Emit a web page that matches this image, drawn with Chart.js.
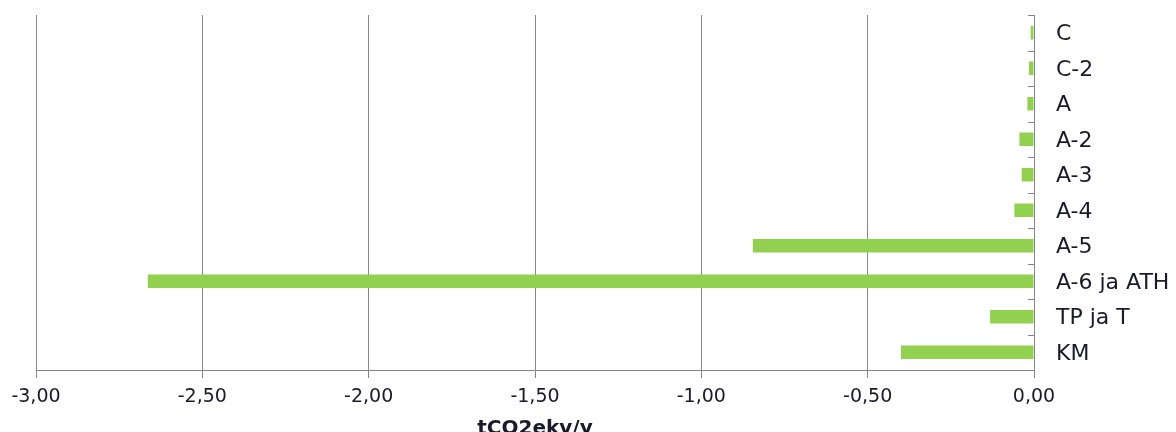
<!DOCTYPE html>
<html>
<head>
<meta charset="utf-8">
<script src="https://cdn.jsdelivr.net/npm/chart.js@4/dist/chart.umd.min.js"></script>
<style>
  html, body { margin: 0; padding: 0; background: #fff; }
  #wrap { width: 1176px; height: 432px; }
</style>
</head>
<body>
<div id="wrap"><canvas id="chart" width="1176" height="432"></canvas></div>
<script>
// categories, top to bottom
const categories = ['C', 'C-2', 'A', 'A-2', 'A-3', 'A-4', 'A-5', 'A-6 ja ATH', 'TP ja T', 'KM'];
// tCO2ekv/y
const values = [-0.01, -0.015, -0.02, -0.044, -0.037, -0.059, -0.845, -2.664, -0.132, -0.40];
const xMin = -3.0;
const xMax = 0.0;
const xStep = 0.5;
const axisTitle = 'tCO2ekv/y';

const gridGray = '#868686';
const barGreen = '#92D050';

// small inward tick marks on the category axis, at the category borders
const yTickMarks = {
    id: 'yTickMarks',
    afterDraw(chart) {
        const y = chart.scales.y;
        const ctx = chart.ctx;
        const x = y.left;
        ctx.save();
        ctx.strokeStyle = gridGray;
        ctx.lineWidth = 1;
        ctx.beginPath();
        for (let i = 0; i <= categories.length; i++) {
            const py = Math.round(y.getPixelForValue(i - 0.5)) + 0.5;
            ctx.moveTo(x - 6, py);
            ctx.lineTo(x, py);
        }
        ctx.stroke();
        ctx.restore();
    }
};

new Chart(document.getElementById('chart'), {
    type: 'bar',
    data: {
        labels: categories,
        datasets: [{
            data: values,
            backgroundColor: barGreen,
            borderWidth: 0,
            barPercentage: 0.38,
            categoryPercentage: 1.0
        }]
    },
    options: {
        indexAxis: 'y',
        responsive: false,
        animation: false,
        layout: { padding: { top: 15, left: 36, right: 0, bottom: 0 } },
        plugins: { legend: { display: false }, tooltip: { enabled: false } },
        scales: {
            x: {
                min: xMin,
                max: xMax,
                afterFit(scale) { scale.height = 62; },
                ticks: {
                    stepSize: xStep,
                    color: '#1a1a2a',
                    padding: 8,
                    maxRotation: 0,
                    font: { family: 'DejaVu Sans', size: 19 },
                    callback: v => Number(v).toFixed(2).replace('.', ',')
                },
                grid: { color: gridGray, tickLength: 8, tickColor: gridGray },
                border: { color: gridGray },
                title: {
                    display: true,
                    text: axisTitle,
                    color: '#1a1a2a',
                    font: { family: 'DejaVu Sans', size: 20, weight: 'bold' },
                    padding: { top: 0, bottom: -9 }
                }
            },
            y: {
                position: 'right',
                afterFit(scale) {
                    scale.width = 142;
                    scale.paddingTop = 0;
                    scale.paddingBottom = 0;
                },
                ticks: {
                    color: '#1a1a2a',
                    padding: 22,
                    labelOffset: 2,
                    font: { family: 'DejaVu Sans', size: 22 }
                },
                grid: { display: false, drawTicks: false },
                border: { display: true, color: gridGray }
            }
        }
    },
    plugins: [yTickMarks]
});
</script>
</body>
</html>
